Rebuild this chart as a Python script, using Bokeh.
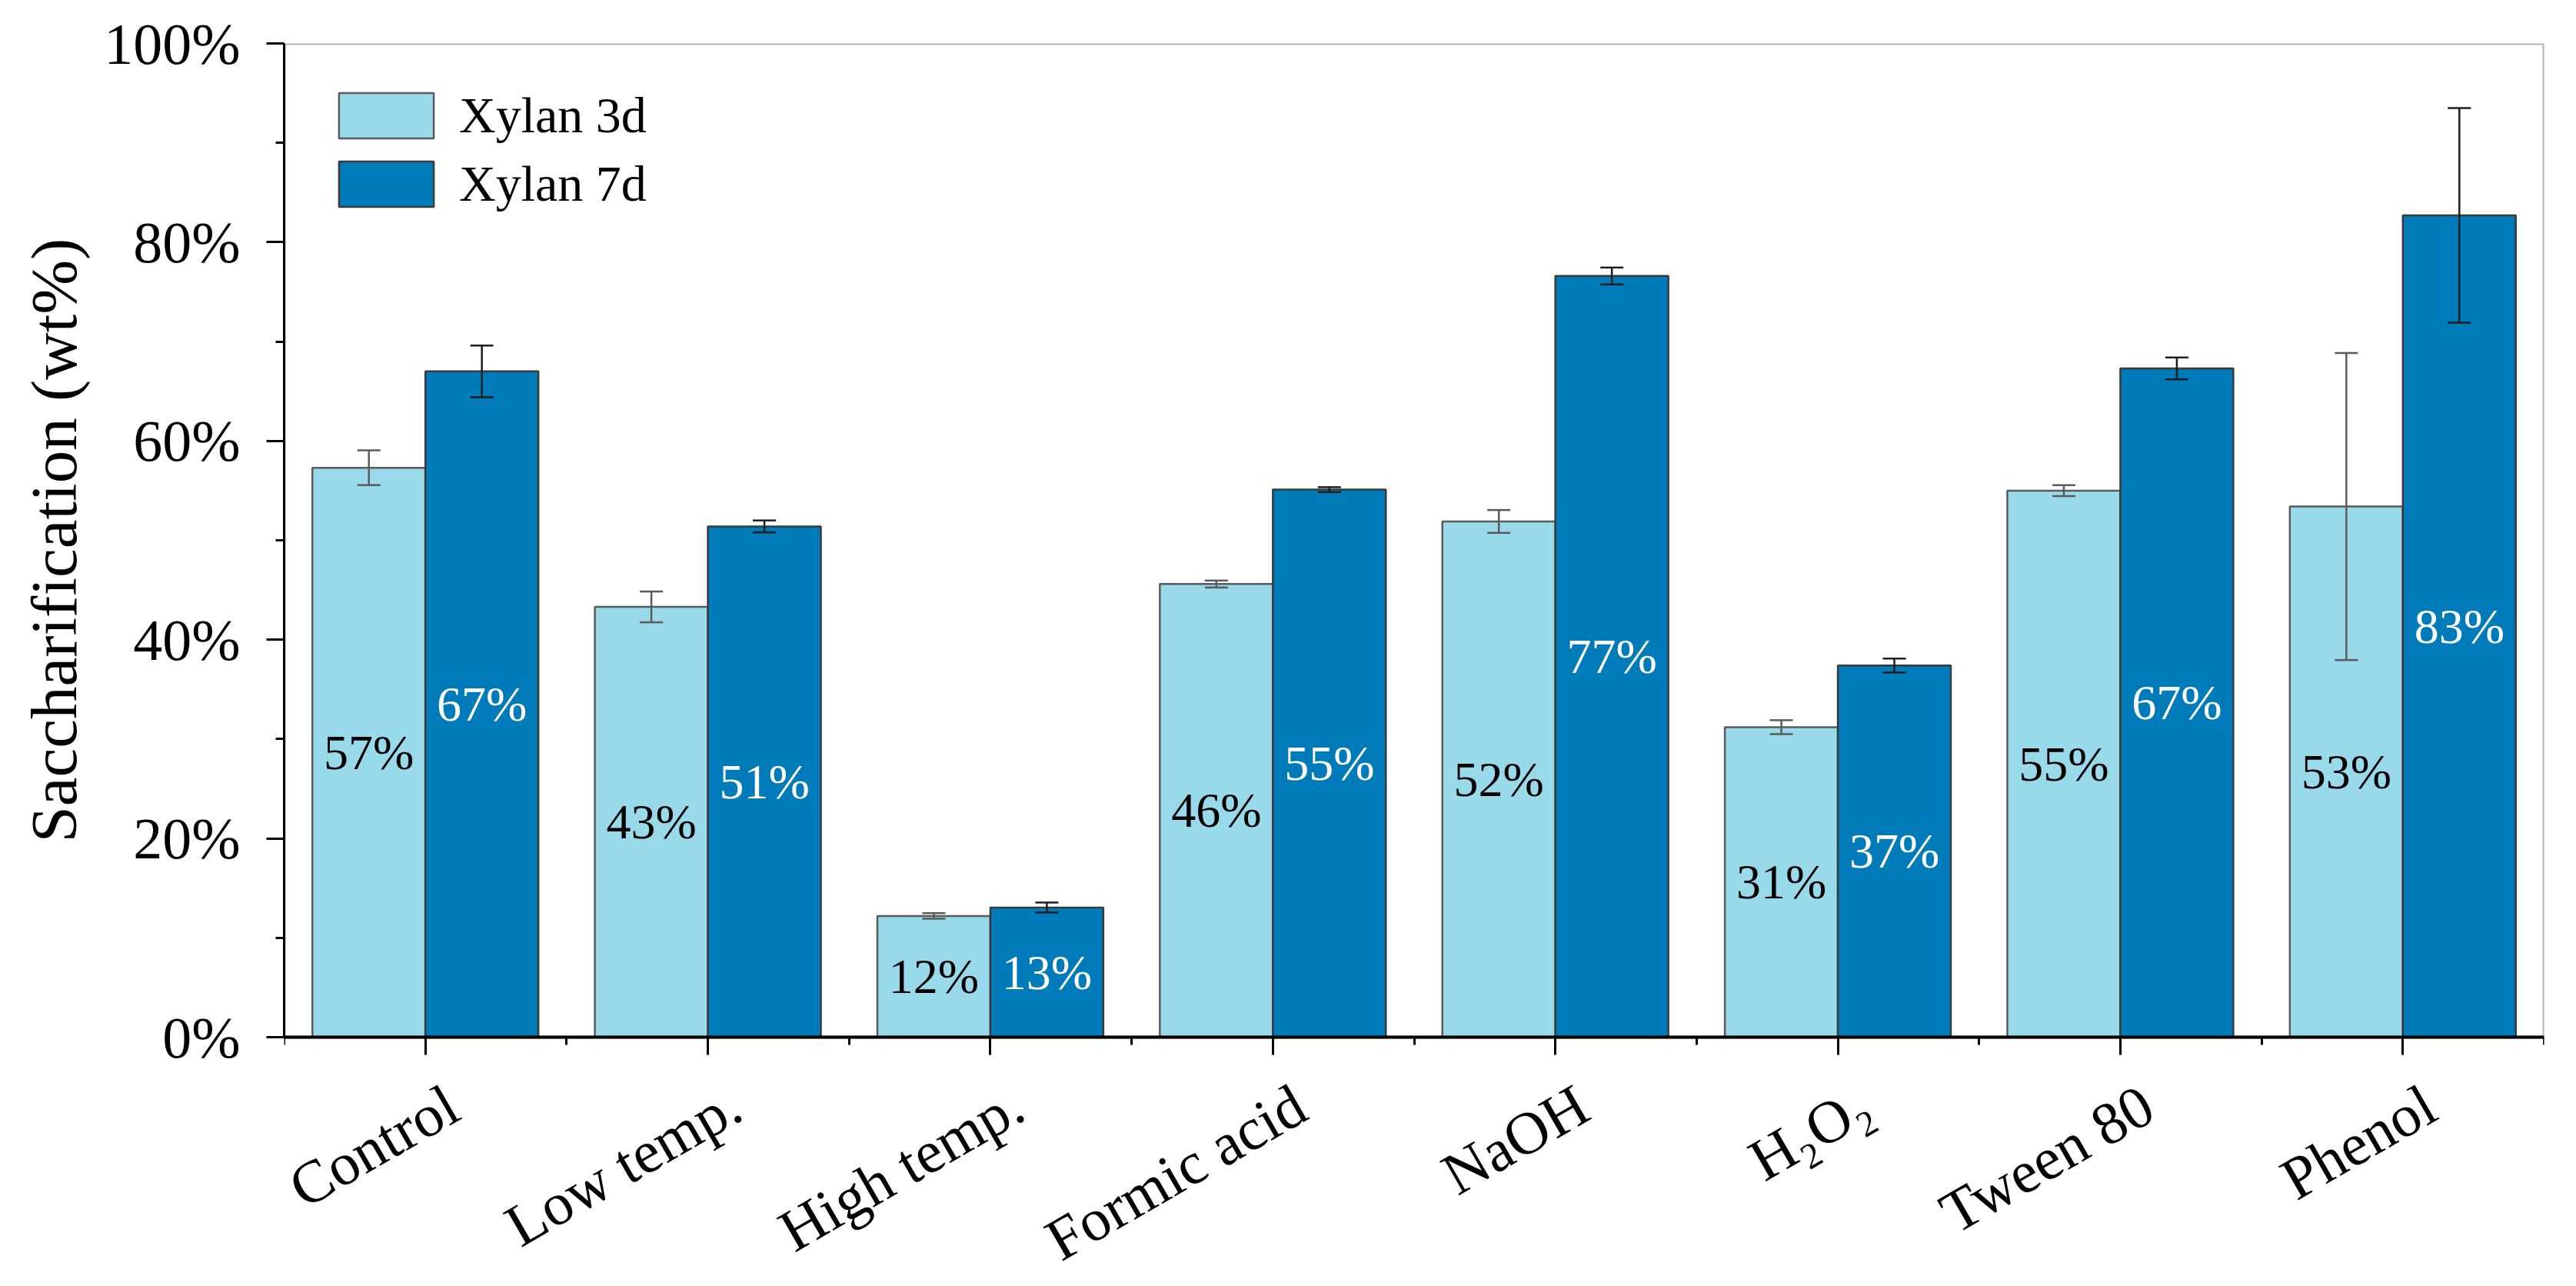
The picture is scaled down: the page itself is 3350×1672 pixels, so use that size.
import math
import numpy as np
from bokeh.plotting import figure
from bokeh.models import (ColumnDataSource, Range1d, LinearAxis, FixedTicker,
                          PrintfTickFormatter, Whisker, TeeHead, Legend, LegendItem,
                          BoxAnnotation, Title)
from bokeh.transform import dodge
from bokeh.core.properties import value
from bokeh.embed import file_html
from bokeh.resources import INLINE

# ---------------- data ----------------
categories = ["Control", "Low temp.", "High temp.", "Formic acid",
              "NaOH", "H\u2082O\u2082", "Tween 80", "Phenol"]
xylan_3d = [57.3, 43.3, 12.2, 45.6, 51.9, 31.2, 55.0, 53.4]
xylan_3d_err = [1.75, 1.55, 0.28, 0.35, 1.15, 0.7, 0.55, 15.45]
xylan_7d = [67.0, 51.4, 13.05, 55.1, 76.6, 37.4, 67.3, 82.7]
xylan_7d_err = [2.6, 0.6, 0.5, 0.25, 0.85, 0.7, 1.1, 10.8]
series_names = ["Xylan 3d", "Xylan 7d"]
y_ticks = [0, 20, 40, 60, 80, 100]
y_minor = [10, 30, 50, 70, 90]
y_title = "Saccharification (wt%)"

FONT = "Liberation Serif"
LIGHT = "#98DAEA"
DARK = "#007BBA"

n = len(categories)
pos = np.arange(n) + 0.5

# layout (pixels)
FRAME_TOP = 56
PLOT_H = 1292           # height of the 0..100 % box
FIG_H = 1656
FIG_W = 3334
px_per_unit = PLOT_H / 100.0
below_px = FIG_H - FRAME_TOP - PLOT_H
y_low = -below_px / px_per_unit   # room for the rotated labels


def make_source(vals, errs):
    v = np.array(vals)
    e = np.array(errs)
    return ColumnDataSource(dict(
        x=pos, top=v, mid=v / 2.0, upper=v + e, lower=v - e,
        label=[f"{x:.0f}%" for x in v]))


src3 = make_source(xylan_3d, xylan_3d_err)
src7 = make_source(xylan_7d, xylan_7d_err)

p = figure(width=FIG_W, height=FIG_H,
           x_range=Range1d(0, n), y_range=Range1d(y_low, 100),
           output_backend="svg", toolbar_location=None,
           x_axis_location=None,
           min_border_left=369, min_border_right=26,
           min_border_top=FRAME_TOP, min_border_bottom=0)
p.grid.visible = False
p.outline_line_color = None
p.background_fill_color = "white"

# frame box of the 0..100 % area
p.add_layout(BoxAnnotation(left=0, right=n, bottom=0, top=100,
                           fill_alpha=0, line_color="black", line_width=4))

# bars
r3 = p.vbar(x=dodge("x", -0.2, range=p.x_range), top="top", width=0.4, source=src3,
            fill_color=LIGHT, line_color="#5a5a5a", line_width=2.5)
r7 = p.vbar(x=dodge("x", 0.2, range=p.x_range), top="top", width=0.4, source=src7,
            fill_color=DARK, line_color="#3a3a3a", line_width=2.5)

# error bars
for src, off, col in ((src3, -0.2, "#5a5a5a"), (src7, 0.2, "#1e1e1e")):
    w = Whisker(source=src, base=dodge("x", off, range=p.x_range),
                upper="upper", lower="lower", dimension="height",
                line_color=col, line_width=2.5, level="annotation",
                upper_head=TeeHead(size=30, line_color=col, line_width=2.5),
                lower_head=TeeHead(size=30, line_color=col, line_width=2.5))
    p.add_layout(w)

# value labels
p.text(x=dodge("x", -0.2, range=p.x_range), y="mid", text="label", source=src3,
       text_font=value(FONT), text_font_size="64px", text_color="black",
       text_align="center", text_baseline="middle")
p.text(x=dodge("x", 0.2, range=p.x_range), y="mid", text="label", source=src7,
       text_font=value(FONT), text_font_size="64px", text_color="white",
       text_align="center", text_baseline="middle")

# y axis
ya = p.yaxis[0]
ya.bounds = (0, 100)
ya.ticker = FixedTicker(ticks=y_ticks, minor_ticks=y_minor)
ya.formatter = PrintfTickFormatter(format="%d%%")
ya.major_label_text_font = FONT
ya.major_label_text_font_size = "76px"
ya.major_label_text_color = "black"
ya.major_label_standoff = 34
ya.major_tick_out = 23
ya.major_tick_in = 0
ya.minor_tick_out = 11
ya.minor_tick_in = 0
ya.major_tick_line_width = 3
ya.minor_tick_line_width = 3
ya.axis_line_width = 3

# y axis title, centred on the 0..100 % box (the frame also holds the label area)
title_len_px = 786
offset_px = below_px + PLOT_H / 2 - title_len_px / 2
p.add_layout(Title(text=y_title, align="left", offset=offset_px,
                   vertical_align="middle", standoff=30,
                   text_font=FONT, text_font_size="85px",
                   text_font_style="normal", text_color="black"), "left")

# x axis at 0 %: ticks pointing down, no labels
x_ticks_axis = LinearAxis(
    ticker=FixedTicker(ticks=list(pos), minor_ticks=list(range(n + 1))),
    fixed_location=0,
    major_label_text_font_size="0px", major_label_standoff=0,
    major_tick_out=0, major_tick_in=23, minor_tick_out=0, minor_tick_in=10,
    major_tick_line_width=3, minor_tick_line_width=3, axis_line_width=4)
x_ticks_axis.major_label_overrides = {float(x): "" for x in pos}
p.add_layout(x_ticks_axis, "above")

# rotated category labels under the ticks
lab_y = -82 / px_per_unit
lab_src = ColumnDataSource(dict(x=pos, y=np.full(n, lab_y), name=categories))
p.text(x=dodge("x", 36 / (2939 / n), range=p.x_range), y="y", text="name",
       source=lab_src, angle=math.pi / 6,
       text_align="right", text_baseline="middle",
       text_font=value(FONT), text_font_size="78px", text_color="black")

legend = Legend(items=[LegendItem(label=series_names[0], renderers=[r3]),
                       LegendItem(label=series_names[1], renderers=[r7])],
                location="top_left", margin=56, padding=0,
                border_line_color=None, background_fill_alpha=0,
                glyph_width=154, glyph_height=74, spacing=13, label_standoff=18,
                label_text_font=FONT, label_text_font_size="66px",
                label_text_color="black")
p.add_layout(legend)

open("out.html", "w").write(file_html(p, INLINE))
